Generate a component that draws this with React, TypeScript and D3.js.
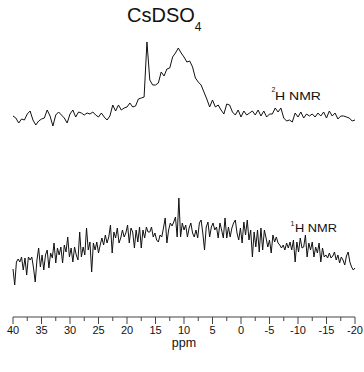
import React from 'react';
import * as d3 from 'd3';

// 2H spectrum, sampled every 0.5 ppm from 40 to -20 ppm
const deuteriumStep = 0.5;
const deuteriumIntensity = [
  9, 7, 2, 6, 5, 11, 14, 5, 0, 4,
  6, 7, 15, 9, -1, 10, 13, 10, 7, 2,
  11, 15, 8, 13, 12, 10, 12, 11, 13, 10,
  8, 12, 8, 5, 9, 20, 14, 20, 15, 17,
  18, 22, 18, 19, 26, 27, 28, 83, 45, 40,
  40, 42, 53, 49, 56, 57, 68, 72, 77, 72,
  68, 63, 64, 58, 47, 43, 40, 33, 26, 18,
  25, 18, 20, 15, 11, 21, 20, 13, 10, 15,
  8, 14, 10, 12, 14, 10, 15, 9, 14, 8,
  11, 11, 17, 13, 17, 7, 4, 5, 3, 12,
  8, 13, 7, 11, 9, 11, 8, 12, 9, 13,
  7, 14, 9, 12, 6, 9, 9, 8, 7, 4,
  5,
];

// 1H spectrum, sampled every 0.3 ppm from 40 to -20 ppm
const protonStep = 0.3;
const protonIntensity = [
  21, 5, 28, 31, 28, 33, 20, 32, 15, 33,
  30, 33, 22, 8, 30, 42, 23, 35, 20, 35,
  40, 22, 37, 32, 47, 27, 42, 35, 43, 27,
  45, 38, 53, 33, 42, 28, 43, 35, 30, 58,
  33, 43, 35, 62, 40, 48, 18, 47, 40, 48,
  37, 45, 52, 45, 55, 47, 53, 65, 37, 58,
  52, 62, 47, 52, 60, 53, 57, 65, 47, 62,
  58, 42, 60, 48, 63, 42, 60, 52, 63, 58,
  58, 63, 53, 57, 50, 48, 55, 53, 62, 72,
  47, 60, 67, 64, 68, 73, 53, 92, 53, 67,
  60, 65, 53, 62, 67, 57, 53, 60, 52, 67,
  70, 57, 40, 63, 68, 53, 63, 67, 60, 63,
  52, 67, 60, 52, 72, 52, 63, 53, 62, 67,
  70, 57, 50, 62, 47, 68, 55, 70, 50, 60,
  33, 58, 43, 60, 38, 62, 40, 60, 52, 43,
  50, 37, 55, 48, 53, 47, 45, 42, 45, 40,
  47, 42, 48, 40, 50, 28, 48, 38, 52, 42,
  43, 55, 33, 47, 40, 48, 33, 43, 37, 47,
  28, 42, 33, 35, 32, 37, 32, 34, 38, 30,
  35, 27, 33, 30, 25, 34, 38, 28, 23, 20,
  22,
];

const ppmStart = 40;
const majorTicks = [40, 35, 30, 25, 20, 15, 10, 5, 0, -5, -10, -15, -20];
const minorTicks = [37.5, 32.5, 27.5, 22.5, 17.5, 12.5, 7.5, 2.5, -2.5, -7.5, -12.5, -17.5];

const font = 'Liberation Sans, Arial, sans-serif';

const App = () => {
  const width = 364;
  const height = 372;
  const axisY = 317;

  const x = d3.scaleLinear().domain([40, -20]).range([13, 355]);
  const yTop = d3.scaleLinear().domain([0, 85]).range([125, 40]);
  const yBottom = d3.scaleLinear().domain([0, 90]).range([290, 200]);

  const deuteriumLine = d3.line<number>()
    .x((d, i) => x(ppmStart - i * deuteriumStep))
    .y(d => yTop(d));

  const protonLine = d3.line<number>()
    .x((d, i) => x(ppmStart - i * protonStep))
    .y(d => yBottom(d));

  return (
    <svg
      width={width}
      height={height}
      style={{ position: 'absolute', left: 0, top: 0, background: '#fff' }}
      fontFamily={font}
    >
      <text x={127} y={22} fontSize={20} fill='#111'>
        CsDSO<tspan dy={8.5} fontSize={12}>4</tspan>
      </text>

      <path d={deuteriumLine(deuteriumIntensity) || ''} fill='none' stroke='#111' strokeWidth={1} strokeLinejoin='round' />
      <path d={protonLine(protonIntensity) || ''} fill='none' stroke='#111' strokeWidth={1} strokeLinejoin='round' />

      <text x={271.5} y={91.5} fontSize={7} fill='#111'>2</text>
      <text x={275} y={99.5} fontSize={10.5} fill='#111' textLength={46} lengthAdjust='spacingAndGlyphs'>H NMR</text>

      <text x={290.5} y={225.5} fontSize={7} fill='#111'>1</text>
      <text x={295} y={231.5} fontSize={10.5} fill='#111' textLength={42} lengthAdjust='spacingAndGlyphs'>H NMR</text>

      <line x1={x(40)} x2={x(-20)} y1={axisY} y2={axisY} stroke='#444' strokeWidth={1} />
      {majorTicks.map(t =>
        <g key={`major-${t}`}>
          <line x1={x(t)} x2={x(t)} y1={axisY} y2={axisY + 7} stroke='#444' strokeWidth={1} />
          <text x={x(t)} y={334} textAnchor='middle' fontSize={11} fill='#111'>{String(t)}</text>
        </g>
      )}
      {minorTicks.map(t =>
        <line key={`minor-${t}`} x1={x(t)} x2={x(t)} y1={axisY} y2={axisY + 4} stroke='#444' strokeWidth={1} />
      )}
      <text x={184} y={347} textAnchor='middle' fontSize={12.5} fill='#111'>ppm</text>
    </svg>
  );
};

export default App;
